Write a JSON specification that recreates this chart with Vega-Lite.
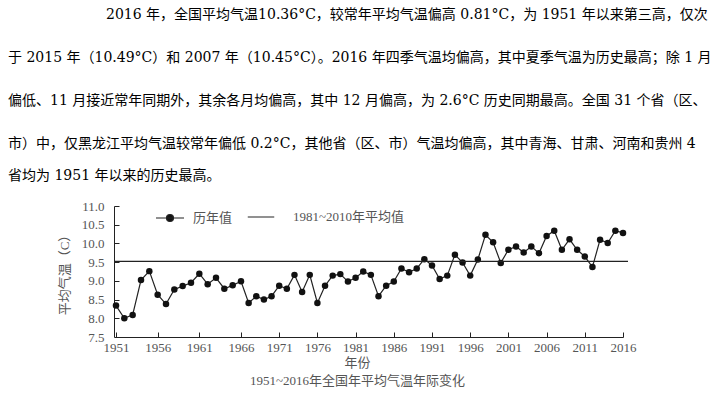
{
  "$schema": "https://vega.github.io/schema/vega-lite/v6.json",
  "width": 514,
  "height": 131,
  "autosize": {"type": "none"},
  "padding": {"left": 114, "top": 206, "right": 85, "bottom": 59},
  "background": "white",
  "title": {
    "text": [
      "\u200b\u3000\u3000\u3000\u3000\u3000\u3000\u30002016 年，全国平均气温10.36°C，较常年平均气温偏高 0.81°C，为 1951 年以来第三高，仅次",
      "于 2015 年（10.49°C）和 2007 年（10.45°C）。2016 年四季气温均偏高，其中夏季气温为历史最高；除 1 月",
      "偏低、11 月接近常年同期外，其余各月均偏高，其中 12 月偏高，为 2.6°C 历史同期最高。全国 31 个省（区、",
      "市）中，仅黑龙江平均气温较常年偏低 0.2°C，其他省（区、市）气温均偏高，其中青海、甘肃、河南和贵州 4"
    ],
    "subtitle": "省均为 1951 年以来的历史最高。",
    "anchor": "start",
    "frame": "group",
    "dx": -106,
    "offset": 17,
    "font": "DejaVu Serif, Noto Sans CJK SC",
    "fontSize": 14,
    "fontWeight": "normal",
    "color": "black",
    "lineHeight": 43,
    "subtitleFont": "DejaVu Serif, Noto Sans CJK SC",
    "subtitleFontSize": 14,
    "subtitleColor": "black",
    "subtitlePadding": 18
  },
  "config": {
    "view": {"stroke": null},
    "axis": {
      "grid": false,
      "domainColor": "#222",
      "tickColor": "#222",
      "labelFont": "Liberation Serif, Noto Sans CJK SC",
      "labelFontSize": 13,
      "labelColor": "#555",
      "titleFont": "Liberation Serif, Noto Sans CJK SC",
      "titleFontSize": 13,
      "titleFontWeight": "normal",
      "titleColor": "#555"
    }
  },
  "data": {
    "values": [
      {"year": 1951, "temp": 8.34, "series": "历年值"},
      {"year": 1952, "temp": 8.00, "series": "历年值"},
      {"year": 1953, "temp": 8.09, "series": "历年值"},
      {"year": 1954, "temp": 9.02, "series": "历年值"},
      {"year": 1955, "temp": 9.26, "series": "历年值"},
      {"year": 1956, "temp": 8.63, "series": "历年值"},
      {"year": 1957, "temp": 8.38, "series": "历年值"},
      {"year": 1958, "temp": 8.77, "series": "历年值"},
      {"year": 1959, "temp": 8.86, "series": "历年值"},
      {"year": 1960, "temp": 8.95, "series": "历年值"},
      {"year": 1961, "temp": 9.19, "series": "历年值"},
      {"year": 1962, "temp": 8.91, "series": "历年值"},
      {"year": 1963, "temp": 9.08, "series": "历年值"},
      {"year": 1964, "temp": 8.79, "series": "历年值"},
      {"year": 1965, "temp": 8.88, "series": "历年值"},
      {"year": 1966, "temp": 8.99, "series": "历年值"},
      {"year": 1967, "temp": 8.41, "series": "历年值"},
      {"year": 1968, "temp": 8.59, "series": "历年值"},
      {"year": 1969, "temp": 8.50, "series": "历年值"},
      {"year": 1970, "temp": 8.59, "series": "历年值"},
      {"year": 1971, "temp": 8.87, "series": "历年值"},
      {"year": 1972, "temp": 8.79, "series": "历年值"},
      {"year": 1973, "temp": 9.16, "series": "历年值"},
      {"year": 1974, "temp": 8.70, "series": "历年值"},
      {"year": 1975, "temp": 9.16, "series": "历年值"},
      {"year": 1976, "temp": 8.41, "series": "历年值"},
      {"year": 1977, "temp": 8.87, "series": "历年值"},
      {"year": 1978, "temp": 9.14, "series": "历年值"},
      {"year": 1979, "temp": 9.18, "series": "历年值"},
      {"year": 1980, "temp": 8.98, "series": "历年值"},
      {"year": 1981, "temp": 9.08, "series": "历年值"},
      {"year": 1982, "temp": 9.25, "series": "历年值"},
      {"year": 1983, "temp": 9.16, "series": "历年值"},
      {"year": 1984, "temp": 8.59, "series": "历年值"},
      {"year": 1985, "temp": 8.87, "series": "历年值"},
      {"year": 1986, "temp": 8.98, "series": "历年值"},
      {"year": 1987, "temp": 9.33, "series": "历年值"},
      {"year": 1988, "temp": 9.23, "series": "历年值"},
      {"year": 1989, "temp": 9.33, "series": "历年值"},
      {"year": 1990, "temp": 9.58, "series": "历年值"},
      {"year": 1991, "temp": 9.41, "series": "历年值"},
      {"year": 1992, "temp": 9.05, "series": "历年值"},
      {"year": 1993, "temp": 9.14, "series": "历年值"},
      {"year": 1994, "temp": 9.70, "series": "历年值"},
      {"year": 1995, "temp": 9.49, "series": "历年值"},
      {"year": 1996, "temp": 9.14, "series": "历年值"},
      {"year": 1997, "temp": 9.57, "series": "历年值"},
      {"year": 1998, "temp": 10.23, "series": "历年值"},
      {"year": 1999, "temp": 10.03, "series": "历年值"},
      {"year": 2000, "temp": 9.48, "series": "历年值"},
      {"year": 2001, "temp": 9.83, "series": "历年值"},
      {"year": 2002, "temp": 9.92, "series": "历年值"},
      {"year": 2003, "temp": 9.76, "series": "历年值"},
      {"year": 2004, "temp": 9.92, "series": "历年值"},
      {"year": 2005, "temp": 9.74, "series": "历年值"},
      {"year": 2006, "temp": 10.20, "series": "历年值"},
      {"year": 2007, "temp": 10.34, "series": "历年值"},
      {"year": 2008, "temp": 9.83, "series": "历年值"},
      {"year": 2009, "temp": 10.11, "series": "历年值"},
      {"year": 2010, "temp": 9.83, "series": "历年值"},
      {"year": 2011, "temp": 9.65, "series": "历年值"},
      {"year": 2012, "temp": 9.37, "series": "历年值"},
      {"year": 2013, "temp": 10.10, "series": "历年值"},
      {"year": 2014, "temp": 10.01, "series": "历年值"},
      {"year": 2015, "temp": 10.34, "series": "历年值"},
      {"year": 2016, "temp": 10.28, "series": "历年值"}
    ]
  },
  "encoding": {
    "x": {
      "field": "year",
      "type": "quantitative",
      "scale": {"domain": [1951, 1966, 2016], "range": [2, 127, 509], "zero": false, "nice": false},
      "axis": {
        "values": [1951, 1956, 1961, 1966, 1971, 1976, 1981, 1986, 1991, 1996, 2001, 2006, 2011, 2016],
        "format": "d",
        "tickSize": -5,
        "labelPadding": 9,
        "labelOverlap": false,
        "labelFlush": false,
        "title": ["年份", "1951~2016年全国年平均气温年际变化"],
        "titleX": 243,
        "titleLineHeight": 18,
        "titlePadding": 2
      }
    },
    "y": {
      "field": "temp",
      "type": "quantitative",
      "scale": {"domain": [7.5, 11], "zero": false, "nice": false},
      "axis": {
        "values": [7.5, 8, 8.5, 9, 9.5, 10, 10.5, 11],
        "format": ".1f",
        "tickSize": -5,
        "labelPadding": 15,
        "labelOverlap": false,
        "labelFlush": false,
        "title": "平均气温（C）",
        "titlePadding": 10
      }
    }
  },
  "layer": [
    {
      "mark": {"type": "line", "stroke": "#222", "strokeWidth": 1.2},
      "encoding": {}
    },
    {
      "mark": {"type": "point", "filled": true, "size": 42, "opacity": 1},
      "encoding": {
        "color": {
          "field": "series",
          "type": "nominal",
          "scale": {"domain": ["历年值"], "range": ["#111"]},
          "legend": {
            "title": null,
            "orient": "none",
            "legendX": 41,
            "legendY": -3,
            "direction": "horizontal",
            "symbolType": "M-1,0H1M0.25,0A0.25,0.25,0,1,1,-0.25,0A0.25,0.25,0,1,1,0.25,0Z",
            "symbolSize": 784,
            "symbolStrokeWidth": 1.2,
            "symbolStrokeColor": "#222",
            "symbolFillColor": "#111",
            "symbolOpacity": 1,
            "labelFont": "Liberation Serif, Noto Sans CJK SC",
            "labelFontSize": 13,
            "labelColor": "#555",
            "labelOffset": 8
          }
        }
      }
    },
    {
      "data": {"values": [{"avg": 9.52, "series": "1981~2010年平均值"}]},
      "mark": {"type": "rule", "stroke": "#222", "strokeWidth": 1.2},
      "encoding": {
        "y": {"field": "avg", "type": "quantitative"},
        "x": null,
        "strokeDash": {
          "field": "series",
          "type": "nominal",
          "scale": {"domain": ["1981~2010年平均值"], "range": [[1, 0]]},
          "legend": {
            "title": null,
            "orient": "none",
            "legendX": 133,
            "legendY": -3,
            "direction": "horizontal",
            "symbolType": "stroke",
            "symbolSize": 700,
            "symbolStrokeWidth": 1.2,
            "symbolStrokeColor": "#222",
            "labelFont": "Liberation Serif, Noto Sans CJK SC",
            "labelFontSize": 13,
            "labelColor": "#555",
            "labelOffset": 18
          }
        }
      }
    }
  ]
}
